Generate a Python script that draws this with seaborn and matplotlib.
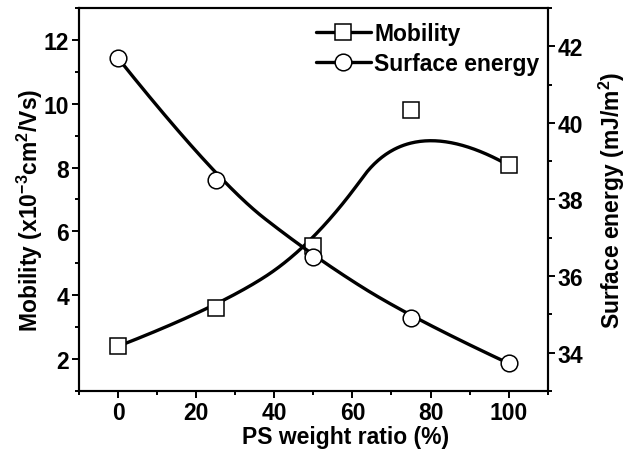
import numpy as np
import pandas as pd
import matplotlib
matplotlib.use("Agg")
import matplotlib.pyplot as plt
import seaborn as sns
from matplotlib.lines import Line2D
from matplotlib.ticker import MultipleLocator

# ---- data ----
ps_ratio = [0, 25, 50, 75, 100]
mobility = [2.40, 3.59, 5.55, 9.79, 8.07]          # x10^-3 cm^2/Vs
surface_energy = [41.69, 38.50, 36.51, 34.91, 33.72]  # mJ/m^2
x_ticks = [0, 20, 40, 60, 80, 100]
mob_ticks = [2, 4, 6, 8, 10, 12]
se_ticks = [34, 36, 38, 40, 42]


def bspline_curve(xs, ys, n=120):
    """Clamped uniform quadratic B-spline using the data points as control points."""
    P = np.column_stack([xs, ys]).astype(float)
    mids = (P[1:-2] + P[2:-1]) / 2
    starts = np.vstack([P[:1], mids])
    ends = np.vstack([mids, P[-1:]])
    ctrls = P[1:-1]
    t = np.linspace(0, 1, n)[:, None]
    pts = [(1 - t) ** 2 * a + 2 * t * (1 - t) * c + t ** 2 * b
           for a, c, b in zip(starts, ctrls, ends)]
    pts = np.vstack(pts)
    return pd.DataFrame({"x": pts[:, 0], "y": pts[:, 1]})


sns.set_theme(style="ticks")
plt.rcParams["font.family"] = ["Liberation Sans", "DejaVu Sans"]
plt.rcParams["font.weight"] = "bold"
plt.rcParams["axes.labelweight"] = "bold"
plt.rcParams["text.color"] = "black"
plt.rcParams["axes.labelcolor"] = "black"
plt.rcParams["xtick.color"] = "black"
plt.rcParams["ytick.color"] = "black"
plt.rcParams["mathtext.fontset"] = "custom"
plt.rcParams["mathtext.rm"] = "Liberation Sans:bold"
plt.rcParams["mathtext.bf"] = "Liberation Sans:bold"
plt.rcParams["mathtext.default"] = "bf"

fig = plt.figure(figsize=(6.3, 4.56), dpi=100)
ax = fig.add_axes([0.1254, 0.1404, 0.744, 0.840])
ax2 = ax.twinx()

lw = 2.4
mob_curve = bspline_curve(ps_ratio, mobility)
se_curve = bspline_curve(ps_ratio, surface_energy)

sns.lineplot(data=mob_curve, x="x", y="y", sort=False, ax=ax, color="black",
             linewidth=lw, legend=False, zorder=2)
ax.plot(ps_ratio, mobility, linestyle="none", marker="s", markersize=11,
        markerfacecolor="white", markeredgecolor="black", markeredgewidth=1.1, zorder=3)

sns.lineplot(data=se_curve, x="x", y="y", sort=False, ax=ax2, color="black",
             linewidth=lw, legend=False, zorder=2)
ax2.plot(ps_ratio, surface_energy, linestyle="none", marker="o", markersize=12,
         markerfacecolor="white", markeredgecolor="black", markeredgewidth=1.1, zorder=3)

ax.set_xlim(-10, 110)
ax.set_ylim(1, 13)
ax2.set_ylim(33, 43)
ax.set_xticks(x_ticks)
ax.set_yticks(mob_ticks)
ax2.set_yticks(se_ticks)
ax.xaxis.set_minor_locator(MultipleLocator(10))
ax.yaxis.set_minor_locator(MultipleLocator(1))
ax2.yaxis.set_minor_locator(MultipleLocator(1))

fs = 16.5
for a in (ax, ax2):
    for s in a.spines.values():
        s.set_linewidth(1.5)
        s.set_color("black")
        s.set_visible(True)
    a.tick_params(which="major", direction="out", length=5, width=1.4,
                  labelsize=fs, colors="black", labelcolor="black", pad=2)
    a.tick_params(which="minor", direction="out", length=3, width=1.4, colors="black")
ax.tick_params(axis="x", which="both", top=False)
ax.tick_params(axis="y", which="both", right=False)

ax.set_xlabel("PS weight ratio (%)", fontsize=fs, fontweight="bold", color="black")
ax.set_ylabel(r"Mobility (x10$^{-3}$cm$^{2}$/Vs)", fontsize=fs, fontweight="bold", color="black")
ax2.set_ylabel(r"Surface energy (mJ/m$^{2}$)", fontsize=fs, fontweight="bold", color="black")
ax.xaxis.set_label_coords(0.568, -0.09)
ax.yaxis.set_label_coords(-0.073, 0.474)
ax2.yaxis.set_label_coords(1.105, 0.5)
for lab in ax.get_xticklabels() + ax.get_yticklabels() + ax2.get_yticklabels():
    lab.set_fontweight("bold")
    lab.set_color("black")

handles = [
    Line2D([], [], color="black", linewidth=lw, marker="s", markersize=11,
           markerfacecolor="white", markeredgecolor="black", markeredgewidth=1.1),
    Line2D([], [], color="black", linewidth=lw, marker="o", markersize=12,
           markerfacecolor="white", markeredgecolor="black", markeredgewidth=1.1),
]
leg = ax2.legend(handles, ["Mobility", "Surface energy"], loc="upper right",
                 bbox_to_anchor=(1.012, 1.0), frameon=False, handlelength=2.4,
                 handletextpad=0.15, labelspacing=0.3, borderaxespad=0.2,
                 prop={"size": fs, "weight": "bold"})
for t in leg.get_texts():
    t.set_color("black")

fig.savefig("out.png", dpi=100)
